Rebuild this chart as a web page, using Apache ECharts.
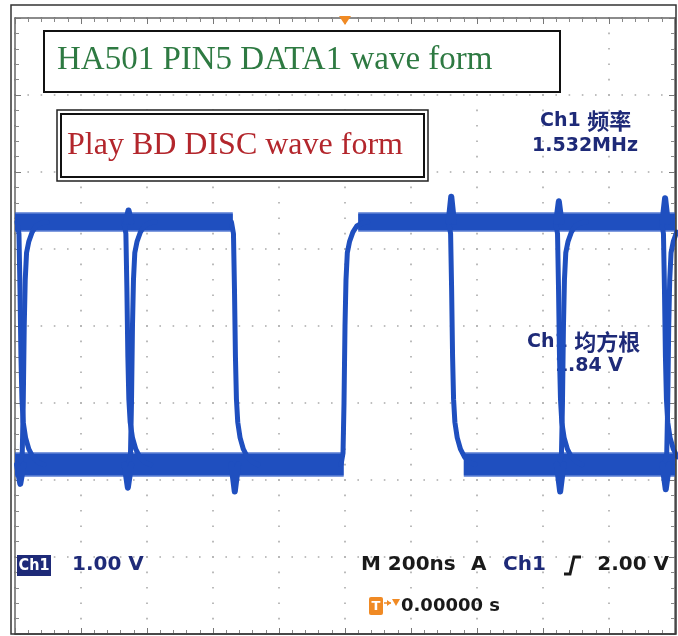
<!DOCTYPE html>
<html>
<head>
<meta charset="utf-8">
<script src="https://cdn.jsdelivr.net/npm/echarts@6/dist/echarts.min.js"></script>
<style>
html,body{margin:0;padding:0;background:#fff;}
#c{width:678px;height:636px;}
</style>
</head>
<body>
<div id="c"></div>
<script>
// ---- axis settings (time in ns, 200 ns/div; amplitude in V, 1 V/div) ----
const timeMin = -1000, timeMax = 1000, timeStep = 200;
const voltMin = -4, voltMax = 4, voltStep = 1;

// ---- persistence bands (high / low levels) ----
const highBandA = [[-1000, 1.35], [-340, 1.35]];
const highBandB = [[40, 1.35], [1000, 1.35]];
const lowBandA  = [[-1000, -1.8], [-4, -1.8]];
const lowBandB  = [[360, -1.8], [1000, -1.8]];

// ---- edges ----
const fallEdge1 = [[-994,1.35],[-988,1.2],[-985,0.5],[-982,-0.4],[-979,-0.95],[-975,-1.25],[-968,-1.45],[-958,-1.6],[-946,-1.7],[-930,-1.77],[-913,-1.8]];
const riseEdge1 = [[-984,-1.8],[-978,-1.65],[-975,-1.0],[-972,0],[-969,0.6],[-965,0.95],[-958,1.1],[-948,1.22],[-936,1.3],[-920,1.34],[-903,1.35]];
const fallEdge2 = [[-670,1.35],[-664,1.2],[-661,0.5],[-658,-0.4],[-655,-0.95],[-651,-1.25],[-644,-1.45],[-634,-1.6],[-622,-1.7],[-606,-1.77],[-589,-1.8]];
const riseEdge2 = [[-656,-1.8],[-650,-1.65],[-647,-1.0],[-644,0],[-641,0.6],[-637,0.95],[-630,1.1],[-620,1.22],[-608,1.3],[-592,1.34],[-575,1.35]];
const fallEdge3 = [[-344,1.35],[-338,1.2],[-335,0.5],[-332,-0.4],[-329,-0.95],[-325,-1.25],[-318,-1.45],[-308,-1.6],[-296,-1.7],[-280,-1.77],[-263,-1.8]];
const riseEdge4 = [[-12,-1.8],[-6,-1.65],[-3,-1.0],[0,0],[3,0.6],[7,0.95],[14,1.1],[24,1.22],[36,1.3],[52,1.34],[69,1.35]];
const fallEdge5 = [[314,1.35],[320,1.2],[323,0.5],[326,-0.4],[329,-0.95],[333,-1.25],[340,-1.45],[350,-1.6],[362,-1.7],[378,-1.77],[395,-1.8]];
const fallEdge6 = [[638,1.35],[644,1.2],[647,0.5],[650,-0.4],[653,-0.95],[657,-1.25],[664,-1.45],[674,-1.6],[686,-1.7],[702,-1.77],[719,-1.8]];
const riseEdge6 = [[650,-1.8],[656,-1.65],[659,-1.0],[662,0],[665,0.6],[669,0.95],[676,1.1],[686,1.22],[698,1.3],[714,1.34],[731,1.35]];
const fallEdge7 = [[959,1.35],[965,1.2],[968,0.5],[971,-0.4],[974,-0.95],[978,-1.25],[985,-1.45],[995,-1.6],[1007,-1.7]];
const riseEdge7 = [[969,-1.8],[975,-1.65],[978,-1.0],[981,0],[984,0.6],[988,0.95],[995,1.1],[1005,1.22]];

// ---- overshoot spikes ----
const spikesTop = [
  [[-664,1.35],[-656,1.5],[-648,1.35]],
  [[314,1.35],[322,1.68],[330,1.35]],
  [[640,1.35],[648,1.62],[656,1.35]],
  [[962,1.35],[970,1.66],[978,1.35]]
];
const spikesBottom = [
  [[-994,-1.8],[-984,-2.05],[-974,-1.8]],
  [[-668,-1.8],[-658,-2.1],[-648,-1.8]],
  [[-344,-1.8],[-334,-2.15],[-324,-1.8]],
  [[642,-1.8],[652,-2.15],[662,-1.8]],
  [[962,-1.8],[972,-2.12],[982,-1.8]]
];

// ---- texts ----
const titleText = 'HA501 PIN5 DATA1 wave form';
const subText = 'Play BD DISC wave form';
const freqCh = 'Ch1';
const freqName = '频率';
const freqValue = '1.532MHz';
const rmsCh = 'Ch1';
const rmsName = '均方根';
const rmsValue = '1.84 V';
const chLabel = 'Ch1';
const chScale = '1.00 V';
const timeScale = 'M 200ns';
const trigMode = 'A';
const trigSrc = 'Ch1';
const trigLevel = '2.00 V';
const trigPos = '0.00000 s';

const TRACE = '#1f4fbf';
const HALO = 'rgba(45,90,200,0.6)';
const NAVY = '#1e2a78';
const SCOPE_FONT = '"DejaVu Sans",sans-serif';

const chart = echarts.init(document.getElementById('c'), null, {renderer: 'canvas'});

function bandSeries(data, w) {
  return [
    {type: 'line', data: data, symbol: 'none', silent: true, z: 3,
     lineStyle: {color: HALO, width: w + 3, cap: 'butt'}},
    {type: 'line', data: data, symbol: 'none', silent: true, z: 4,
     lineStyle: {color: TRACE, width: w, cap: 'butt'}}
  ];
}
function edgeSeries(data) {
  return {type: 'line', data: data, symbol: 'none', silent: true, z: 5,
          lineStyle: {color: TRACE, width: 5, join: 'round', cap: 'round'}};
}
function spikeSeries(data) {
  return {type: 'line', data: data, symbol: 'none', silent: true, z: 5,
          lineStyle: {color: TRACE, width: 6, join: 'round', cap: 'round'}};
}

const series = []
  .concat(bandSeries(highBandA, 17), bandSeries(highBandB, 17),
          bandSeries(lowBandA, 22), bandSeries(lowBandB, 22))
  .concat([fallEdge1, riseEdge1, fallEdge2, riseEdge2, fallEdge3, riseEdge4,
           fallEdge5, fallEdge6, riseEdge6, fallEdge7, riseEdge7].map(edgeSeries))
  .concat(spikesTop.map(spikeSeries), spikesBottom.map(spikeSeries));

function xAx(pos, split) {
  return {
    type: 'value', min: timeMin, max: timeMax, interval: timeStep, position: pos,
    axisLine: {show: true, onZero: false, lineStyle: {color: '#666', width: 1.5}},
    axisTick: {show: true, inside: true, length: 6, lineStyle: {color: '#777'}},
    minorTick: {show: true, splitNumber: 5, length: 4, lineStyle: {color: '#888'}},
    axisLabel: {show: false},
    splitLine: {show: split, lineStyle: {color: '#ababab', width: 1.6, type: [1.6, 13.8], dashOffset: 0.8}}
  };
}
function yAx(pos, split) {
  return {
    type: 'value', min: voltMin, max: voltMax, interval: voltStep, position: pos,
    axisLine: {show: true, onZero: false, lineStyle: {color: '#666', width: 1.5}},
    axisTick: {show: true, inside: true, length: 6, lineStyle: {color: '#777'}},
    minorTick: {show: true, splitNumber: 5, length: 4, lineStyle: {color: '#888'}},
    axisLabel: {show: false},
    splitLine: {show: split, lineStyle: {color: '#ababab', width: 1.6, type: [1.6, 11.6], dashOffset: 0.8}}
  };
}

function txt(x, y, text, font, fill, align) {
  return {type: 'text', x: x, y: y, z: 1,
    style: {text: text, font: font, fill: fill, align: align || 'left', verticalAlign: 'middle'}};
}
function richTxt(x, y, latin, cjk, align) {
  return {type: 'text', x: x, y: y, z: 1,
    style: {
      text: '{a|' + latin + ' }{b|' + cjk + '}', align: align || 'left', verticalAlign: 'middle',
      rich: {
        a: {font: 'bold 19px ' + SCOPE_FONT, fill: NAVY},
        b: {font: 'bold 22px "Noto Sans CJK SC",sans-serif', fill: NAVY}
      }
    }};
}

const B = 'bold 20px ' + SCOPE_FONT;
const BM = 'bold 19px ' + SCOPE_FONT;
const graphics = [
  // outer frame
  {type: 'rect', z: 10, shape: {x: 11, y: 5, width: 665, height: 629}, style: {fill: 'none', stroke: '#333', lineWidth: 1.5}},
  // title box
  {type: 'rect', z: 1, shape: {x: 44, y: 31, width: 516, height: 61}, style: {fill: '#fff', stroke: '#111', lineWidth: 2}},
  txt(57, 60, titleText, '33px "Liberation Serif","DejaVu Serif",serif', '#2e7a42'),
  // subtitle double box
  {type: 'rect', z: 1, shape: {x: 57, y: 110, width: 371, height: 71}, style: {fill: '#fff', stroke: '#222', lineWidth: 1.5}},
  {type: 'rect', z: 1, shape: {x: 61, y: 114, width: 363, height: 63}, style: {fill: '#fff', stroke: '#111', lineWidth: 2}},
  txt(67, 146, subText, '32px "Liberation Serif","DejaVu Serif",serif', '#b3262c'),
  // measurements
  richTxt(540, 121, freqCh, freqName, 'left'),
  txt(585, 146, freqValue, BM, NAVY, 'center'),
  richTxt(527, 342, rmsCh, rmsName, 'left'),
  txt(623, 366, rmsValue, BM, NAVY, 'right'),
  // bottom status line
  {type: 'rect', z: 1, shape: {x: 17, y: 555, width: 34, height: 21}, style: {fill: NAVY}},
  txt(34, 566, chLabel, 'bold 16px "DejaVu Sans Condensed","DejaVu Sans",sans-serif', '#fff', 'center'),
  txt(72, 565, chScale, B, NAVY),
  txt(361, 565, timeScale, B, '#1a1a1a'),
  txt(471, 565, trigMode, B, '#1a1a1a'),
  txt(503, 565, trigSrc, B, NAVY),
  {type: 'polyline', z: 1, shape: {points: [[564, 574], [570, 574], [574, 557], [581, 557]]}, style: {stroke: '#1a1a1a', lineWidth: 3, fill: 'none'}},
  txt(669, 565, trigLevel, B, '#1a1a1a', 'right'),
  // trigger position readout
  {type: 'rect', z: 1, shape: {x: 369, y: 597, width: 14, height: 18, r: 2}, style: {fill: '#f08a24'}},
  txt(376, 606.5, 'T', 'bold 13px ' + SCOPE_FONT, '#fff', 'center'),
  {type: 'polyline', z: 1, shape: {points: [[384, 603], [391, 603]]}, style: {stroke: '#f08a24', lineWidth: 1.5}},
  {type: 'polygon', z: 1, shape: {points: [[387, 600], [391, 603], [387, 606]]}, style: {fill: '#f08a24'}},
  {type: 'polygon', z: 1, shape: {points: [[392, 599], [400, 599], [396, 606]]}, style: {fill: '#f08a24'}},
  txt(401, 606, trigPos, 'bold 18px ' + SCOPE_FONT, '#1a1a1a'),
  // trigger marker on top
  {type: 'polygon', z: 1, shape: {points: [[339, 16], [351, 16], [345, 25]]}, style: {fill: '#f08a24'}}
];

chart.setOption({
  animation: false,
  backgroundColor: '#fff',
  grid: {left: 15, right: 3, top: 18, bottom: 2, containLabel: false},
  xAxis: [xAx('bottom', true), xAx('top', false)],
  yAxis: [yAx('left', true), yAx('right', false)],
  series: series,
  graphic: {elements: graphics}
});
</script>
</body>
</html>
